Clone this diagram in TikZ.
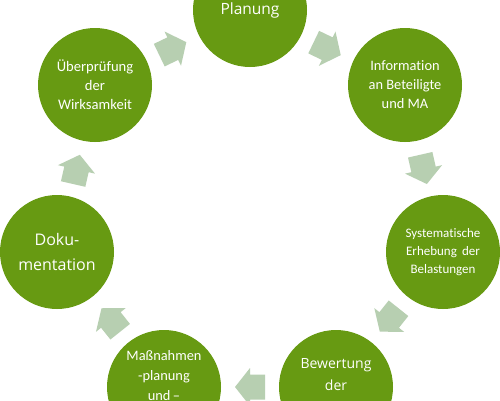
\documentclass[tikz,border=0pt]{standalone}
\usepackage{fontspec}
\setmainfont{Open Sans}
\newfontfamily\carl[Ligatures=NoCommon]{Carlito}
\definecolor{cgreen}{RGB}{103,154,18}
\definecolor{carrow}{RGB}{183,207,177}
\begin{document}
\begin{tikzpicture}[x=1pt,y=-1pt,
  circ/.style={circle,fill=cgreen,minimum size=114pt,inner sep=0pt},
  lbl/.style={text=white,align=center,inner sep=0pt},
  arr/.style={fill=carrow,draw=none}]
\clip (0,0) rectangle (500,400);
\fill[white] (0,0) rectangle (500,400);
% circles
\node[circ] (c0) at (250,10) {};
\node[circ] (c1) at (405,85) {};
\node[circ] (c2) at (443,252) {};
\node[circ] (c3) at (336,387) {};
\node[circ] (c4) at (164,387) {};
\node[circ] (c5) at (57,252) {};
\node[circ] (c6) at (95,85) {};
% labels
\node[lbl,font=\fontsize{15.5}{24}\selectfont] (t0) at (c0) {Planung};
\node[lbl,font=\carl\fontsize{14.4}{19}\selectfont] (t1) at (c1) {Information\\an Beteiligte\\und MA};
\node[lbl,font=\carl\fontsize{13}{18}\selectfont] (t2) at (c2) {Systematische\\Erhebung\, der\\Belastungen};
\node[lbl,font=\fontsize{14}{22}\selectfont] (t3) at (336,375) {Bewertung\\der};
\node[lbl,font=\carl\fontsize{14.4}{20}\selectfont] (t4) at (164,376) {Maßnahmen\\-planung\\und\,–};
\node[lbl,font=\fontsize{16}{25}\selectfont] (t5) at (c5) {Doku-\\mentation};
\node[lbl,font=\carl\fontsize{14.6}{19}\selectfont] (t6) at (c6) {Überprüfung\\der\\Wirksamkeit};
% arrows
\foreach \k in {0,...,6}{
  \pgfmathsetmacro{\ph}{25.714+51.4286*\k}
  \begin{scope}[shift={({250+178*sin(\ph)},{209-178*cos(\ph)})},rotate=-\ph]
    \fill[arr] (-15,-12.5) -- (0,-12.5) -- (0,-19) -- (15,0) -- (0,19) -- (0,12.5) -- (-15,12.5) -- cycle;
  \end{scope}
}
\end{tikzpicture}
\end{document}
